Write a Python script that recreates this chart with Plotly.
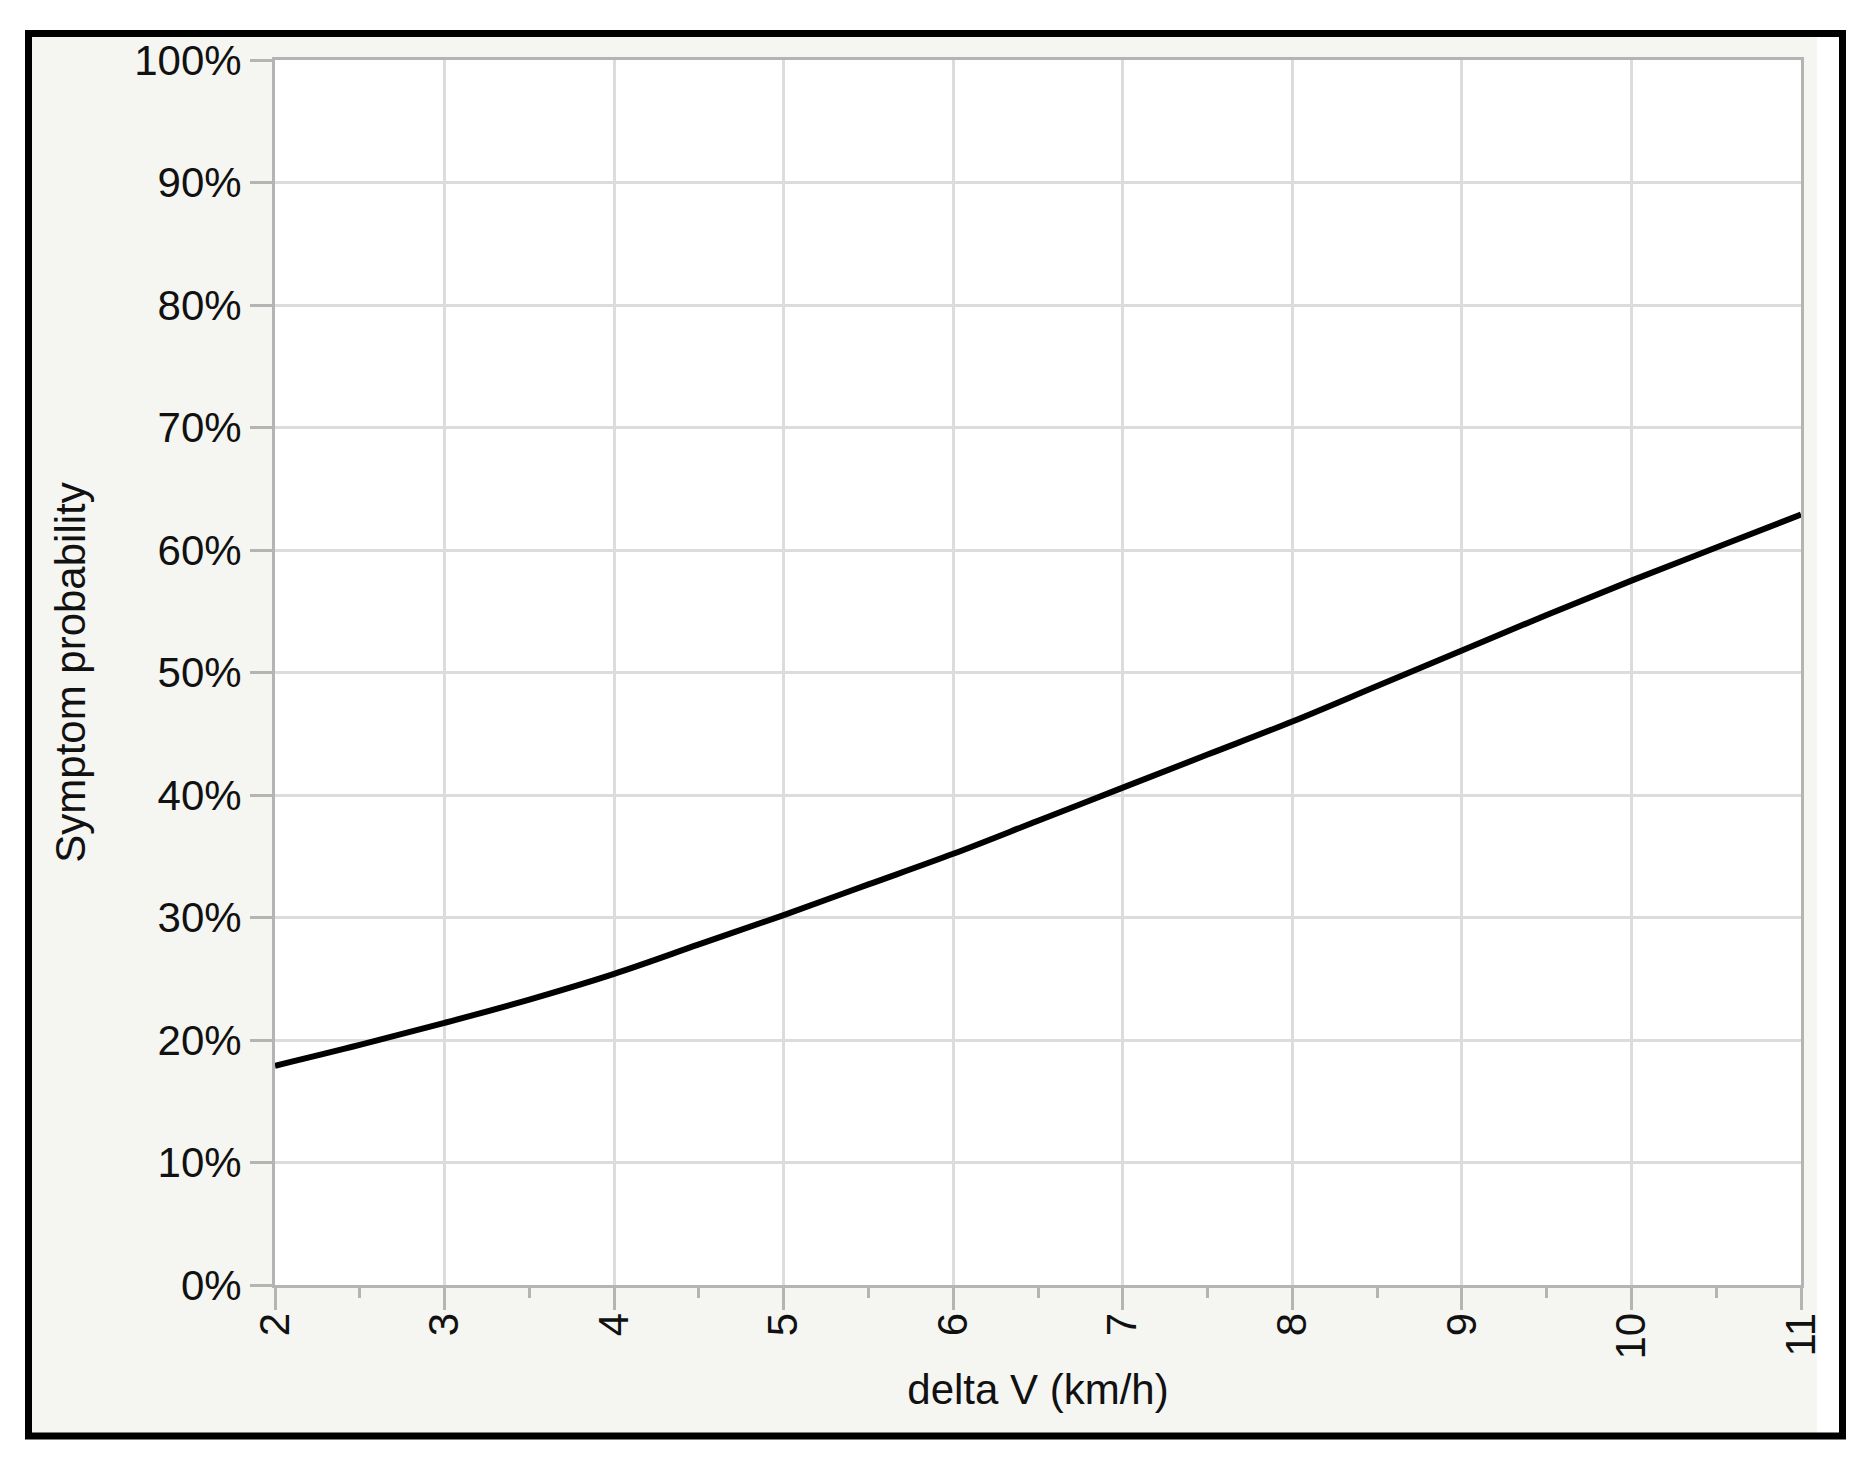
import plotly.graph_objects as go

# Data
delta_v = [2, 2.5, 3, 3.5, 4, 4.5, 5, 5.5, 6, 6.5, 7, 7.5, 8, 8.5, 9, 9.5, 10, 10.5, 11]
symptom_prob = [17.9, 19.6, 21.4, 23.3, 25.4, 27.8, 30.2, 32.7, 35.2, 37.9, 40.6, 43.3,
                46.0, 48.9, 51.8, 54.7, 57.5, 60.2, 62.9]
x_ticks = [2, 3, 4, 5, 6, 7, 8, 9, 10, 11]
y_ticks = [0, 10, 20, 30, 40, 50, 60, 70, 80, 90, 100]

OFF = 8  # browser body margin
W, H = 1875 - OFF, 1474 - OFF
L, R, T, B = 275 - OFF, 1801 - OFF, 60 - OFF, 1285 - OFF


def px(x):
    return (x - OFF - L) / (R - L)


def py(y):
    return (B - (y - OFF)) / (B - T)


FONT = "Liberation Sans, Arial, Helvetica, sans-serif"
TXT = "#111111"
AX = "#b4b4b4"
GRID = "#dcdcdc"
FS = 42

fig = go.Figure()
fig.add_trace(go.Scatter(
    x=delta_v, y=symptom_prob, mode="lines",
    line=dict(color="black", width=6, shape="spline"),
    hoverinfo="x+y", showlegend=False,
))

fig.update_layout(
    width=W, height=H,
    margin=dict(l=L, r=W - R, t=T, b=H - B),
    paper_bgcolor="white",
    plot_bgcolor="white",
    font=dict(family=FONT, size=FS, color=TXT),
    shapes=[
        # grey panel
        dict(type="rect", xref="paper", yref="paper", layer="below",
             x0=px(32), x1=px(1817), y0=py(1433), y1=py(37),
             fillcolor="#f5f5f1", line=dict(width=0)),
        # white plot area over panel
        dict(type="rect", xref="paper", yref="paper", layer="below",
             x0=0, x1=1, y0=0, y1=1, fillcolor="white", line=dict(width=0)),
        # black frame
        dict(type="rect", xref="paper", yref="paper", layer="above",
             x0=px(28.5), x1=px(1842.5), y0=py(1436), y1=py(33.5),
             fillcolor="rgba(0,0,0,0)", line=dict(color="black", width=7)),
    ],
)

fig.update_xaxes(
    range=[2, 11], tickvals=x_ticks, ticktext=[str(v) for v in x_ticks],
    tickangle=-90, ticks="outside", ticklen=22, tickwidth=3, tickcolor=AX,
    ticklabelstandoff=-14,
    showline=True, linecolor=AX, linewidth=3, mirror=True,
    showgrid=True, gridcolor=GRID, gridwidth=3, zeroline=False,
    tickfont=dict(family=FONT, size=FS, color=TXT),
    minor=dict(dtick=0.5, tick0=2, ticks="outside", ticklen=10, tickwidth=3,
               tickcolor=AX, showgrid=False),
    title=dict(text="delta V (km/h)", font=dict(family=FONT, size=FS, color=TXT),
               standoff=17),
)
fig.update_yaxes(
    range=[0, 100], tickvals=y_ticks, ticktext=[f"{v}%" for v in y_ticks],
    ticks="outside", ticklen=22, tickwidth=3, tickcolor=AX,
    showline=True, linecolor=AX, linewidth=3, mirror=True,
    showgrid=True, gridcolor=GRID, gridwidth=3, zeroline=False,
    tickfont=dict(family=FONT, size=FS, color=TXT),
    title=dict(text="Symptom probability", font=dict(family=FONT, size=FS, color=TXT),
               standoff=36),
)

fig.write_html("out.html")
